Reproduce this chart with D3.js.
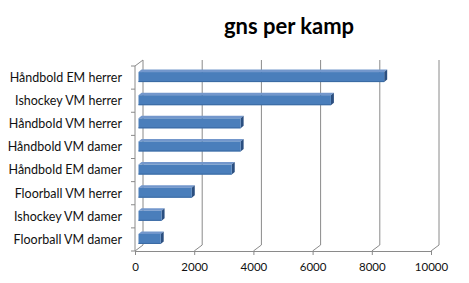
<!DOCTYPE html>
<html>
<head>
<meta charset="utf-8">
<script src="https://cdn.jsdelivr.net/npm/d3@7.9.0/dist/d3.min.js"></script>
<style>
  body { margin: 0; background: #fff; }
  svg { display: block; font-family: Lato, "Open Sans", sans-serif; }
</style>
</head>
<body>
<svg width="469" height="283"></svg>
<script>
// data
const categories = ["Håndbold EM herrer", "Ishockey VM herrer", "Håndbold VM herrer",
  "Håndbold VM damer", "Håndbold EM damer", "Floorball VM herrer",
  "Ishockey VM damer", "Floorball VM damer"];
const values = [8300, 6500, 3450, 3450, 3150, 1800, 780, 750];
const tickValues = [0, 2000, 4000, 6000, 8000, 10000];
const title = "gns per kamp";

const svg = d3.select("svg");
const gridColor = "#8a8a8a";
// 3d wall depth
const dx = 8, dy = -6;

const x = d3.scaleLinear().domain([0, 10000]).range([135, 431]);
const y = d3.scaleBand().domain(categories).range([66, 251]);

// title
svg.append("text")
  .attr("x", 289).attr("y", 34)
  .attr("text-anchor", "middle")
  .attr("font-size", 22).attr("font-weight", "bold")
  .text(title);

// back wall gridlines + floor diagonals
const grid = svg.append("g").attr("stroke", gridColor).attr("fill", "none");
tickValues.forEach(t => {
  grid.append("path")
    .attr("d", `M${x(t)},${y.range()[1]} L${x(t) + dx},${y.range()[1] + dy} L${x(t) + dx},${y.range()[0] + dy}`);
});
// left front axis with top diagonal
grid.append("path")
  .attr("d", `M${x(0) + dx},${y.range()[0] + dy} L${x(0)},${y.range()[0]} L${x(0)},${y.range()[1]}`);
// category boundary ticks
d3.range(categories.length + 1).forEach(i => {
  const yy = y.range()[0] + i * y.step();
  grid.append("line").attr("x1", x(0) - 4).attr("x2", x(0)).attr("y1", yy).attr("y2", yy);
});

// bottom axis
const xAxis = d3.axisBottom(x).tickValues(tickValues).tickSize(4).tickSizeOuter(0).tickFormat(d3.format("d"));
const gx = svg.append("g").attr("transform", `translate(0,${y.range()[1]})`).call(xAxis);
gx.select(".domain").attr("stroke", gridColor);
gx.selectAll(".tick line").attr("stroke", gridColor);
gx.selectAll(".tick text").attr("font-size", 11.5).attr("fill", "#111").attr("dy", "1.1em")
  .attr("font-family", "Lato, sans-serif");

// category labels
svg.append("g").selectAll("text").data(categories).join("text")
  .attr("x", 122)
  .attr("y", d => y(d) + y.bandwidth() / 2)
  .attr("dy", "0.35em")
  .attr("text-anchor", "end")
  .attr("font-size", 12.5).attr("fill", "#111")
  .text(d => d);

// 3d bars
const bdx = 3, bdy = -2.5, bh = 10;
const bars = svg.append("g").selectAll("g").data(values).join("g");
const x0 = x(0) + 3.5;
bars.each(function (v, i) {
  const g = d3.select(this);
  const yc = y(categories[i]) + y.bandwidth() / 2 - 1.5;
  const top = yc - bh / 2 + 1, bot = top + bh;
  const x1 = x(v) + 3.5;
  // top face
  g.append("path")
    .attr("d", `M${x0},${top} L${x0 + bdx},${top + bdy} L${x1 + bdx},${top + bdy} L${x1},${top} Z`)
    .attr("fill", "#7397cc");
  // right end
  g.append("path")
    .attr("d", `M${x1},${top} L${x1 + bdx},${top + bdy} L${x1 + bdx},${bot + bdy} L${x1},${bot} Z`)
    .attr("fill", "#2b4f80");
  // front face
  g.append("rect")
    .attr("x", x0).attr("y", top)
    .attr("width", x1 - x0).attr("height", bh)
    .attr("fill", "#4a7ebb");
  g.append("line")
    .attr("x1", x0).attr("x2", x1).attr("y1", bot - 0.5).attr("y2", bot - 0.5)
    .attr("stroke", "#3a6aa3");
});
</script>
</body>
</html>
